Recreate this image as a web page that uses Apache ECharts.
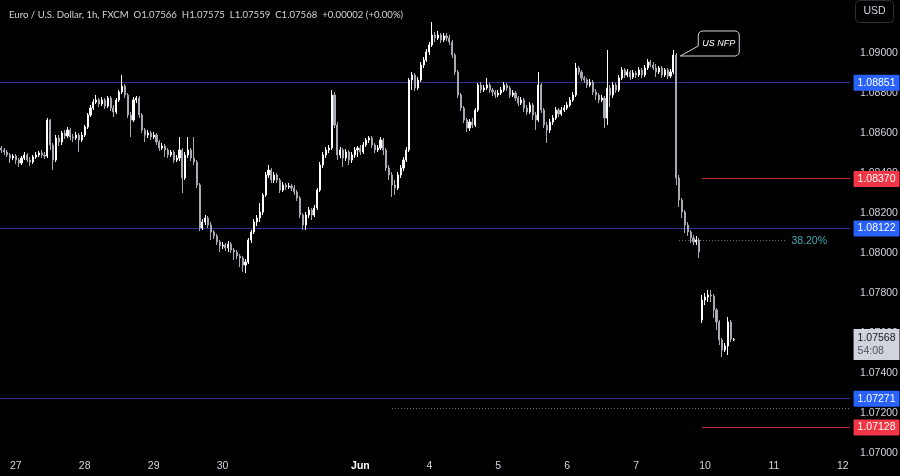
<!DOCTYPE html>
<html><head><meta charset="utf-8">
<script src="https://cdn.jsdelivr.net/npm/echarts@6/dist/echarts.min.js"></script>
<style>html,body{margin:0;padding:0;background:#000}#c{width:900px;height:476px}</style>
</head><body><div id="c"></div>
<script>
// ---- data (EUR/USD 1h, FXCM) ----
const sessionDays = ['May 26','May 27','May 28','May 29','May 30','May 31','Jun 3','Jun 4','Jun 5','Jun 6','Jun 7','Jun 10','Jun 11','Jun 12'];
const firstDayStartHour = 19;
const lastDayEndHour = 2;
const tickLabels = {'May 27':'27','May 28':'28','May 29':'29','May 30':'30','Jun 3':'Jun','Jun 4':'4','Jun 5':'5','Jun 6':'6','Jun 7':'7','Jun 10':'10','Jun 11':'11','Jun 12':'12'};

const opens = [
1.08525,1.08515,1.08505,1.08490,1.08475,1.08485,1.08465,1.08450,1.08475,1.08490,
1.08465,1.08455,1.08480,1.08490,1.08500,1.08490,1.08485,1.08665,1.08540,1.08465,
1.08575,1.08555,1.08600,1.08585,1.08615,1.08580,1.08575,1.08590,1.08565,1.08590,
1.08630,1.08690,1.08725,1.08755,1.08765,1.08745,1.08765,1.08735,1.08775,1.08725,
1.08705,1.08765,1.08805,1.08835,1.08790,1.08690,1.08665,1.08765,1.08775,1.08690,
1.08615,1.08590,1.08600,1.08580,1.08590,1.08555,1.08525,1.08535,1.08515,1.08490,
1.08505,1.08465,1.08475,1.08515,1.08375,1.08490,1.08515,1.08475,1.08455,1.08340,
1.08125,1.08155,1.08175,1.08140,1.08105,1.08085,1.08055,1.08035,1.08040,1.08025,
1.08045,1.08015,1.08005,1.07985,1.07975,1.07940,1.07955,1.08065,1.08105,1.08155,
1.08175,1.08205,1.08290,1.08390,1.08415,1.08365,1.08390,1.08365,1.08315,1.08340,
1.08330,1.08335,1.08325,1.08305,1.08275,1.08190,1.08140,1.08190,1.08215,1.08190,
1.08225,1.08315,1.08440,1.08490,1.08515,1.08525,1.08790,1.08640,1.08490,1.08515,
1.08475,1.08505,1.08465,1.08490,1.08515,1.08525,1.08505,1.08540,1.08565,1.08575,
1.08540,1.08515,1.08525,1.08565,1.08515,1.08425,1.08390,1.08340,1.08325,1.08390,
1.08425,1.08465,1.08515,1.08865,1.08890,1.08825,1.08865,1.08940,1.08965,1.09005,
1.09040,1.09090,1.09075,1.09090,1.09065,1.09085,1.09075,1.09055,1.08990,1.08905,
1.08790,1.08725,1.08665,1.08625,1.08655,1.08640,1.08715,1.08840,1.08815,1.08825,
1.08840,1.08815,1.08805,1.08790,1.08800,1.08815,1.08840,1.08825,1.08790,1.08800,
1.08775,1.08750,1.08765,1.08725,1.08705,1.08740,1.08690,1.08665,1.08840,1.08715,
1.08640,1.08615,1.08655,1.08675,1.08715,1.08695,1.08715,1.08725,1.08740,1.08765,
1.08790,1.08925,1.08905,1.08875,1.08865,1.08840,1.08855,1.08805,1.08790,1.08765,
1.08775,1.08675,1.08825,1.08790,1.08840,1.08815,1.08875,1.08915,1.08890,1.08905,
1.08880,1.08900,1.08890,1.08915,1.08890,1.08925,1.08955,1.08940,1.08925,1.08905,
1.08925,1.08890,1.08915,1.08885,1.08905,1.08990,1.08375,1.08265,1.08205,1.08140,
1.08105,1.08075,1.08055,1.08065,1.07665,1.07765,1.07780,1.07790,1.07785,1.07715,
1.07655,1.07565,1.07515,1.07535,1.07655,1.07566];

const closes = [
1.08515,1.08505,1.08490,1.08475,1.08485,1.08465,1.08450,1.08475,1.08490,1.08465,
1.08455,1.08480,1.08490,1.08500,1.08490,1.08485,1.08665,1.08540,1.08465,1.08575,
1.08555,1.08600,1.08585,1.08615,1.08580,1.08575,1.08590,1.08565,1.08590,1.08630,
1.08690,1.08725,1.08755,1.08765,1.08745,1.08765,1.08735,1.08775,1.08725,1.08705,
1.08765,1.08805,1.08835,1.08790,1.08690,1.08665,1.08765,1.08775,1.08690,1.08615,
1.08590,1.08600,1.08580,1.08590,1.08555,1.08525,1.08535,1.08515,1.08490,1.08505,
1.08465,1.08475,1.08515,1.08375,1.08490,1.08515,1.08475,1.08455,1.08340,1.08125,
1.08155,1.08175,1.08140,1.08105,1.08085,1.08055,1.08035,1.08040,1.08025,1.08045,
1.08015,1.08005,1.07985,1.07975,1.07940,1.07955,1.08065,1.08105,1.08155,1.08175,
1.08205,1.08290,1.08390,1.08415,1.08365,1.08390,1.08365,1.08315,1.08340,1.08330,
1.08335,1.08325,1.08305,1.08275,1.08190,1.08140,1.08190,1.08215,1.08190,1.08225,
1.08315,1.08440,1.08490,1.08515,1.08525,1.08790,1.08640,1.08490,1.08515,1.08475,
1.08505,1.08465,1.08490,1.08515,1.08525,1.08505,1.08540,1.08565,1.08575,1.08540,
1.08515,1.08525,1.08565,1.08515,1.08425,1.08390,1.08340,1.08325,1.08390,1.08425,
1.08465,1.08515,1.08865,1.08890,1.08825,1.08865,1.08940,1.08965,1.09005,1.09040,
1.09090,1.09075,1.09090,1.09065,1.09085,1.09075,1.09055,1.08990,1.08905,1.08790,
1.08725,1.08665,1.08625,1.08655,1.08640,1.08715,1.08840,1.08815,1.08825,1.08840,
1.08815,1.08805,1.08790,1.08800,1.08815,1.08840,1.08825,1.08790,1.08800,1.08775,
1.08750,1.08765,1.08725,1.08705,1.08740,1.08690,1.08665,1.08840,1.08715,1.08640,
1.08615,1.08655,1.08675,1.08715,1.08695,1.08715,1.08725,1.08740,1.08765,1.08790,
1.08925,1.08905,1.08875,1.08865,1.08840,1.08855,1.08805,1.08790,1.08765,1.08775,
1.08675,1.08825,1.08790,1.08840,1.08815,1.08875,1.08915,1.08890,1.08905,1.08880,
1.08900,1.08890,1.08915,1.08890,1.08925,1.08955,1.08940,1.08925,1.08905,1.08925,
1.08890,1.08915,1.08885,1.08905,1.08990,1.08375,1.08265,1.08205,1.08140,1.08105,
1.08075,1.08055,1.08065,1.08005,1.07765,1.07780,1.07790,1.07785,1.07715,1.07655,
1.07565,1.07515,1.07535,1.07655,1.07570,1.07568];

const highs = [
1.08535,1.08525,1.08515,1.08500,1.08495,1.08495,1.08475,1.08485,1.08505,1.08500,
1.08480,1.08490,1.08505,1.08510,1.08515,1.08505,1.08675,1.08670,1.08550,1.08590,
1.08590,1.08610,1.08615,1.08630,1.08625,1.08595,1.08605,1.08600,1.08605,1.08640,
1.08700,1.08740,1.08770,1.08790,1.08775,1.08780,1.08775,1.08785,1.08785,1.08740,
1.08775,1.08815,1.08890,1.08845,1.08800,1.08705,1.08780,1.08785,1.08785,1.08700,
1.08625,1.08615,1.08610,1.08605,1.08600,1.08565,1.08550,1.08545,1.08525,1.08515,
1.08515,1.08490,1.08580,1.08525,1.08505,1.08580,1.08525,1.08580,1.08465,1.08350,
1.08170,1.08190,1.08185,1.08155,1.08115,1.08095,1.08065,1.08055,1.08050,1.08060,
1.08055,1.08025,1.08015,1.07995,1.07985,1.07970,1.08075,1.08115,1.08170,1.08190,
1.08250,1.08300,1.08405,1.08440,1.08425,1.08405,1.08400,1.08375,1.08355,1.08350,
1.08350,1.08345,1.08340,1.08315,1.08285,1.08200,1.08205,1.08230,1.08225,1.08240,
1.08325,1.08455,1.08505,1.08530,1.08540,1.08815,1.08805,1.08655,1.08530,1.08525,
1.08520,1.08515,1.08505,1.08530,1.08535,1.08540,1.08555,1.08575,1.08585,1.08585,
1.08550,1.08540,1.08580,1.08575,1.08525,1.08440,1.08405,1.08365,1.08405,1.08440,
1.08480,1.08530,1.08875,1.08905,1.08900,1.08880,1.08955,1.08980,1.09020,1.09055,
1.09155,1.09105,1.09110,1.09100,1.09100,1.09100,1.09090,1.09065,1.09000,1.08915,
1.08800,1.08735,1.08675,1.08670,1.08675,1.08725,1.08850,1.08855,1.08840,1.08875,
1.08850,1.08825,1.08815,1.08815,1.08830,1.08855,1.08850,1.08835,1.08815,1.08810,
1.08785,1.08780,1.08775,1.08740,1.08755,1.08750,1.08705,1.08905,1.08850,1.08725,
1.08655,1.08670,1.08690,1.08730,1.08725,1.08730,1.08740,1.08755,1.08780,1.08805,
1.08950,1.08935,1.08915,1.08885,1.08875,1.08870,1.08865,1.08820,1.08800,1.08790,
1.08785,1.09015,1.08840,1.08855,1.08850,1.08890,1.08930,1.08925,1.08920,1.08915,
1.08915,1.08910,1.08930,1.08925,1.08940,1.08970,1.08965,1.08955,1.08945,1.08935,
1.08935,1.08925,1.08925,1.08920,1.09015,1.09000,1.08390,1.08275,1.08215,1.08155,
1.08115,1.08090,1.08085,1.08075,1.07790,1.07800,1.07815,1.07815,1.07795,1.07725,
1.07665,1.07575,1.07550,1.07680,1.07665,1.07575];

const lows = [
1.08500,1.08490,1.08480,1.08450,1.08465,1.08445,1.08430,1.08440,1.08465,1.08455,
1.08435,1.08445,1.08470,1.08480,1.08475,1.08470,1.08475,1.08515,1.08415,1.08455,
1.08535,1.08540,1.08570,1.08575,1.08565,1.08555,1.08565,1.08505,1.08555,1.08580,
1.08620,1.08680,1.08715,1.08745,1.08730,1.08735,1.08720,1.08725,1.08710,1.08680,
1.08695,1.08755,1.08795,1.08775,1.08675,1.08580,1.08655,1.08750,1.08675,1.08600,
1.08555,1.08575,1.08565,1.08570,1.08540,1.08510,1.08515,1.08480,1.08475,1.08480,
1.08450,1.08455,1.08460,1.08300,1.08365,1.08475,1.08460,1.08440,1.08325,1.08110,
1.08115,1.08140,1.08125,1.08065,1.08070,1.08040,1.08005,1.08020,1.08010,1.08005,
1.08000,1.07965,1.07970,1.07930,1.07905,1.07900,1.07945,1.08050,1.08095,1.08135,
1.08155,1.08190,1.08280,1.08375,1.08350,1.08350,1.08350,1.08300,1.08305,1.08315,
1.08320,1.08310,1.08290,1.08260,1.08175,1.08115,1.08115,1.08175,1.08165,1.08180,
1.08215,1.08305,1.08425,1.08475,1.08500,1.08515,1.08625,1.08465,1.08475,1.08430,
1.08460,1.08440,1.08450,1.08475,1.08480,1.08490,1.08495,1.08530,1.08550,1.08525,
1.08500,1.08505,1.08515,1.08490,1.08410,1.08365,1.08280,1.08290,1.08315,1.08375,
1.08410,1.08455,1.08505,1.08815,1.08810,1.08815,1.08855,1.08925,1.08955,1.08990,
1.09030,1.09055,1.09065,1.09050,1.09055,1.09060,1.09040,1.08975,1.08890,1.08775,
1.08710,1.08650,1.08605,1.08610,1.08625,1.08630,1.08705,1.08800,1.08805,1.08815,
1.08800,1.08785,1.08775,1.08780,1.08790,1.08805,1.08810,1.08775,1.08780,1.08760,
1.08735,1.08740,1.08705,1.08690,1.08695,1.08665,1.08615,1.08655,1.08700,1.08625,
1.08550,1.08600,1.08640,1.08665,1.08680,1.08685,1.08705,1.08715,1.08730,1.08755,
1.08780,1.08890,1.08860,1.08850,1.08825,1.08830,1.08790,1.08765,1.08750,1.08755,
1.08625,1.08640,1.08730,1.08775,1.08800,1.08805,1.08865,1.08875,1.08880,1.08865,
1.08870,1.08875,1.08880,1.08875,1.08880,1.08915,1.08930,1.08915,1.08880,1.08895,
1.08875,1.08880,1.08870,1.08875,1.08895,1.08340,1.08230,1.08175,1.08100,1.08085,
1.08050,1.08040,1.08040,1.07975,1.07650,1.07740,1.07755,1.07755,1.07675,1.07615,
1.07540,1.07480,1.07505,1.07490,1.07555,1.07559];

// key levels
const supportResistance = [1.08851, 1.08122, 1.07271];   // blue
const redLevels = [1.08370, 1.07128];                    // red
const fibLevel = 1.08060, fibLabel = '38.20%';
const dottedLevel = 1.07225;
const lastPrice = 1.07568, countdown = '54:08';
const nfpIndex = 235;
const redStartIndex = 244, fibStartIndex = 236, fibEndIndex = 273, dottedStartIndex = 136;
const headerText = 'Euro / U.S. Dollar, 1h, FXCM  O1.07566  H1.07575  L1.07559  C1.07568  +0.00002 (+0.00%)';

// ---- build ----
const categories = [];
sessionDays.forEach((d, k) => {
  const h0 = k === 0 ? firstDayStartHour : 0;
  const h1 = k === sessionDays.length - 1 ? lastDayEndHour : 23;
  for (let h = h0; h <= h1; h++) categories.push(d + ' ' + String(h).padStart(2, '0') + ':00');
});
const candleData = opens.map((o, i) => [o, closes[i], lows[i], highs[i]]);
const firstCat = categories[0];
const lastCat = categories[categories.length - 1];
const FONT = 'Liberation Sans';
const BLUE_LINE = '#2f3290', RED_LINE = '#c42a33', DOT_LINE = '#74777f';

function boxLabel(bg, text) {
  return { show: true, position: 'end', distance: 5, formatter: text, backgroundColor: bg,
    color: '#ffffff', padding: [3, 4, 2, 4], fontSize: 10.5, fontFamily: FONT, borderRadius: 1 };
}
const hiddenStyle = { color: 'rgba(0,0,0,0)', width: 1 };
function seg(fromCat, toCat, v, label) {
  return [{ coord: [fromCat, v], lineStyle: hiddenStyle, label: label }, { coord: [toCat, v], lineStyle: hiddenStyle, label: label }];
}
// level definitions: [fromCat, toCat, value, stroke, dash, label]
const levels = [];
supportResistance.forEach(v => levels.push([firstCat, lastCat, v, BLUE_LINE, null, boxLabel('#2962ff', v.toFixed(5))]));
redLevels.forEach(v => levels.push([categories[redStartIndex], lastCat, v, RED_LINE, null, boxLabel('#f23645', v.toFixed(5))]));
levels.push([categories[fibStartIndex], categories[fibEndIndex], fibLevel, DOT_LINE, [1, 2],
  { show: true, position: 'end', distance: 6, formatter: fibLabel, color: '#3fa7b4', fontSize: 10.5, fontFamily: FONT }]);
levels.push([categories[dottedStartIndex], lastCat, dottedLevel, DOT_LINE, [1, 2], { show: false }]);
const priceLabel = { show: true, position: 'end', distance: 5, formatter: '{a|' + lastPrice.toFixed(5) + '}\n{b|' + countdown + '}',
  backgroundColor: '#d1d4dc', padding: [3, 4, 2, 4], offset: [0, 5],
  rich: { a: { color: '#131722', fontSize: 10.5, fontFamily: FONT, lineHeight: 13 }, b: { color: '#50535e', fontSize: 10.5, fontFamily: FONT, lineHeight: 13 } } };
levels.push([categories[nfpIndex], lastCat, lastPrice, null, null, priceLabel]);

const chart = echarts.init(document.getElementById('c'), null, { renderer: 'canvas' });
chart.setOption({
  backgroundColor: '#000000',
  animation: false,
  title: { text: headerText, left: 4, top: 5, textStyle: { color: '#d1d4dc', fontSize: 9.6, fontWeight: 'normal', fontFamily: 'Lato' } },
  grid: { left: 0, right: 50, top: 0, bottom: 20, containLabel: false, outerBoundsMode: 'none' },
  xAxis: {
    type: 'category', data: categories, boundaryGap: true,
    axisLine: { show: false }, axisTick: { show: false }, splitLine: { show: false },
    axisLabel: {
      interval: (idx, val) => val.endsWith(' 00:00') && !!tickLabels[val.slice(0, -6)],
      formatter: (val) => { const t = tickLabels[val.slice(0, -6)]; return t === 'Jun' ? '{m|Jun}' : t; },
      color: '#d1d4dc', fontSize: 10.5, fontFamily: FONT, margin: 5, hideOverlap: false,
      rich: { m: { color: '#ffffff', fontWeight: 'bold', fontSize: 10.5, fontFamily: FONT } }
    }
  },
  yAxis: {
    type: 'value', position: 'right', min: 1.06985, max: 1.09265, minInterval: 0.002, maxInterval: 0.002,
    scale: true, axisLine: { show: false }, axisTick: { show: false }, splitLine: { show: false },
    axisLabel: { formatter: v => (v > 1.0905 || v < 1.0695) ? '' : v.toFixed(5), showMinLabel: false, showMaxLabel: false,
      color: '#d1d4dc', fontSize: 10.5, fontFamily: FONT, margin: 10 }
  },
  series: [
    {
      type: 'candlestick', data: candleData, barWidth: 1.6, z: 3,
      itemStyle: { color: '#ffffff', color0: '#a6a9b2', borderColor: '#ffffff', borderColor0: '#a6a9b2', borderWidth: 1 },
      markLine: { silent: true, symbol: ['none', 'none'], precision: 5, animation: false, z: 5,
        lineStyle: hiddenStyle, emphasis: { disabled: true },
        data: levels.map(l => seg(l[0], l[1], l[2], l[5])) }
    }
  ]
});

// crisp level strokes, positioned through the chart's own scales
const strokes = [];
levels.forEach(l => {
  if (!l[3]) return;
  const a = chart.convertToPixel({ seriesIndex: 0 }, [l[0], l[2]]);
  const b = chart.convertToPixel({ seriesIndex: 0 }, [l[1], l[2]]);
  const y = Math.floor(a[1]) + 0.5;
  const x1 = l[0] === firstCat ? 0 : a[0];
  const x2 = l[1] === lastCat ? 850 : b[0];
  strokes.push({ type: 'line', silent: true, z: 1, shape: { x1: x1, y1: y, x2: x2, y2: y },
    style: { stroke: l[3], lineWidth: 1, lineDash: l[4] || null } });
});

// US NFP callout and USD button
const p = chart.convertToPixel({ seriesIndex: 0 }, [categories[nfpIndex], highs[nfpIndex]]);
const ax = p[0], ay = p[1];
const L = ax + 22, R = ax + 63, T = ay - 22, B = ay + 3, c = 2;
const bubble = [
  [L + c * 2, T], [R - c * 2, T], [R - c, T + c * 0.3], [R - c * 0.3, T + c], [R, T + c * 2],
  [R, B - c * 2], [R - c * 0.3, B - c], [R - c, B - c * 0.3], [R - c * 2, B],
  [ax + 4, B], [L, ay - 7],
  [L, T + c * 2], [L + c * 0.3, T + c], [L + c, T + c * 0.3]
];
chart.setOption({
  graphic: strokes.concat([
    { type: 'polygon', shape: { points: bubble }, style: { fill: '#000', stroke: '#d1d4dc', lineWidth: 1 }, z: 100 },
    { type: 'text', x: (L + R) / 2, y: (T + B) / 2, style: { text: 'US NFP', fill: '#ffffff', fontSize: 9, fontStyle: 'italic', fontFamily: FONT, align: 'center', verticalAlign: 'middle' }, z: 101 },
    { type: 'rect', shape: { x: 855.5, y: 0.5, width: 38, height: 22, r: 4 }, style: { fill: '#000', stroke: '#2a2e39', lineWidth: 1 }, z: 100 },
    { type: 'text', x: 874.5, y: 11.5, style: { text: 'USD', fill: '#d1d4dc', fontSize: 10.5, fontFamily: FONT, align: 'center', verticalAlign: 'middle' }, z: 101 }
  ])
});
</script></body></html>
